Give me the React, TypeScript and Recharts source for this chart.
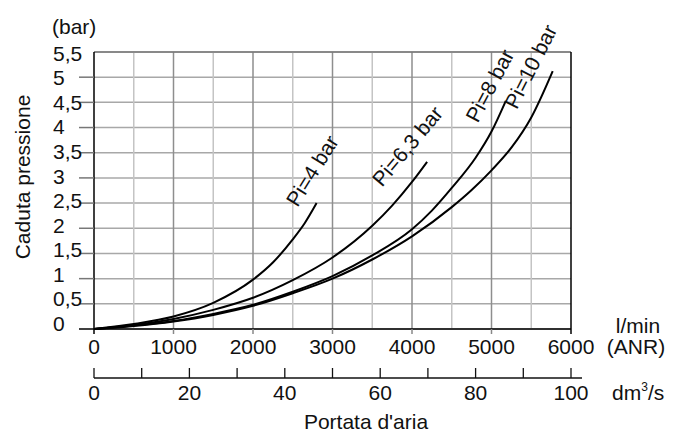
import React from 'react';
import { LineChart, Line, XAxis, YAxis, CartesianGrid, ReferenceLine } from 'recharts';

// flow (l/min ANR) vs pressure drop (bar)
const flowPi4 = [0, 500, 1000, 1500, 2000, 2250, 2500, 2650, 2800];
const dropPi4 = [0, 0.1, 0.25, 0.52, 0.98, 1.32, 1.78, 2.1, 2.5];

const flowPi63 = [0, 500, 1000, 1500, 2000, 2500, 3000, 3500, 3750, 4000, 4190];
const dropPi63 = [0, 0.08, 0.2, 0.38, 0.62, 0.97, 1.42, 2.05, 2.45, 2.92, 3.32];

const flowPi8 = [0, 500, 1000, 1500, 2000, 2500, 3000, 3500, 4000, 4250, 4500, 4800, 5000, 5180];
const dropPi8 = [0, 0.07, 0.16, 0.3, 0.48, 0.74, 1.05, 1.46, 1.98, 2.35, 2.8, 3.4, 3.92, 4.53];

const flowPi10 = [0, 500, 1000, 1500, 2000, 2500, 3000, 3500, 4000, 4500, 4750, 5000, 5250, 5500, 5770];
const dropPi10 = [0, 0.06, 0.15, 0.28, 0.46, 0.71, 1.0, 1.38, 1.84, 2.42, 2.76, 3.15, 3.6, 4.2, 5.12];

const curveNames = ['Pi=4 bar', 'Pi=6,3 bar', 'Pi=8 bar', 'Pi=10 bar'];

const flowTicks = [0, 1000, 2000, 3000, 4000, 5000, 6000];
const flowMinorGrid = [500, 1500, 2500, 3500, 4500, 5500];
const flowMajorGrid = [1000, 2000, 3000, 4000, 5000];
const dropTicks = [0, 0.5, 1, 1.5, 2, 2.5, 3, 3.5, 4, 4.5, 5, 5.5];
const dm3Ticks = [0, 10, 20, 30, 40, 50, 60, 70, 80, 90, 100];
const dm3Labels = [0, 20, 40, 60, 80, 100];

const toPoints = (xs: number[], ys: number[]) => xs.map((x, i) => ({ x, y: ys[i] }));

const series = [
  toPoints(flowPi4, dropPi4),
  toPoints(flowPi63, dropPi63),
  toPoints(flowPi8, dropPi8),
  toPoints(flowPi10, dropPi10),
];

// label placement relative to curve end: dx, dy, rotation
const labelPlacement = [
  { dx: -19, dy: 5, angle: -58 },
  { dx: -45, dy: 26, angle: -50 },
  { dx: -28, dy: 23, angle: -62 },
  { dx: -36, dy: 39, angle: -63 },
];

const FONT = '"Liberation Sans", Arial, Helvetica, sans-serif';
const FS = 21;

const YTick = (props: any) => {
  const { x, y, payload } = props;
  const v = payload.value;
  // labels in the original drift slightly lower relative to the grid towards the top
  const baseline = y + 2 + v * 1.2;
  return (
    <g>
      {v < 5.5 && (
        <line x1={x - 15} x2={x} y1={y} y2={y} stroke={v === 0 ? '#000' : '#777'} strokeWidth={1.5} />
      )}
      <text x={53} y={baseline} fontSize={FS} fontFamily={FONT} fill="#111" textAnchor="start">
        {String(v).replace('.', ',')}
      </text>
    </g>
  );
};

const FlowTick = (props: any) => {
  const { x, y, payload } = props;
  const v = payload.value;
  const edge = v === 0 || v === 6000;
  return (
    <g>
      <line x1={x} x2={x} y1={y} y2={y + 5} stroke={edge ? '#000' : '#888'} strokeWidth={1.5} />
      <text x={x} y={y + 25} fontSize={FS} fontFamily={FONT} fill="#111" textAnchor="middle">
        {v}
      </text>
    </g>
  );
};

const Dm3Tick = (props: any) => {
  const { x, y, payload } = props;
  const v = payload.value;
  return (
    <g>
      <line x1={x} x2={x} y1={y - 10} y2={y} stroke="#111" strokeWidth={1.3} />
      {v === 100 && <line x1={x} x2={x + 11} y1={y} y2={y} stroke="#111" strokeWidth={1.5} />}
      {dm3Labels.includes(v) && (
        <text x={x} y={y + 22} fontSize={FS} fontFamily={FONT} fill="#111" textAnchor="middle">
          {v}
        </text>
      )}
    </g>
  );
};

const App = () => {
  return (
    <div style={{ position: 'absolute', left: 0, top: 0, background: '#fff' }}>
      <LineChart width={678} height={432} margin={{ top: 52, right: 107, bottom: 0, left: 0 }}>
        <CartesianGrid vertical={false} stroke="#a8a8a8" strokeWidth={1.5} />
        {flowMinorGrid.map((v) => (
          <ReferenceLine key={'m' + v} x={v} stroke="#c4c4c4" strokeWidth={1.5} />
        ))}
        {flowMajorGrid.map((v) => (
          <ReferenceLine key={'M' + v} x={v} stroke="#8e8e8e" strokeWidth={1.5} />
        ))}
        <ReferenceLine y={5.5} stroke="#777" strokeWidth={1.5} />
        <ReferenceLine x={6000} stroke="#000" strokeWidth={1.5} />
        <XAxis
          type="number"
          dataKey="x"
          domain={[0, 6000]}
          ticks={flowTicks}
          allowDataOverflow
          height={49}
          tickSize={0}
          tickMargin={0}
          tickLine={false}
          axisLine={{ stroke: '#000', strokeWidth: 1.5 }}
          tick={<FlowTick />}
        />
        <XAxis
          xAxisId="dm3"
          type="number"
          dataKey="x"
          domain={[0, 100]}
          ticks={dm3Ticks}
          allowDataOverflow
          height={54}
          tickSize={0}
          tickMargin={0}
          tickLine={false}
          axisLine={{ stroke: '#111', strokeWidth: 1.5 }}
          tick={<Dm3Tick />}
        />
        <YAxis
          type="number"
          domain={[0, 5.5]}
          ticks={dropTicks}
          width={94}
          tickSize={0}
          tickMargin={0}
          tickLine={false}
          axisLine={{ stroke: '#000', strokeWidth: 1.5 }}
          tick={<YTick />}
        />
        {series.map((data, si) => (
          <Line
            key={curveNames[si]}
            data={data}
            dataKey="y"
            type="monotone"
            stroke="#000"
            strokeWidth={2}
            dot={false}
            isAnimationActive={false}
            label={(p: any) => {
              if (p.index !== data.length - 1) return <g />;
              const { dx, dy, angle } = labelPlacement[si];
              const tx = p.x + dx;
              const ty = p.y + dy;
              return (
                <text
                  x={tx}
                  y={ty}
                  fontSize={FS}
                  fontFamily={FONT}
                  fill="#111"
                  transform={`rotate(${angle} ${tx} ${ty})`}
                >
                  {curveNames[si]}
                </text>
              );
            }}
          />
        ))}
      </LineChart>
      <svg
        width={678}
        height={432}
        style={{ position: 'absolute', left: 0, top: 0, pointerEvents: 'none' }}
      >
        <g fontFamily={FONT} fontSize={FS} fill="#111">
          <text x={52} y={34}>(bar)</text>
          <text x={30} y={177} textAnchor="middle" transform="rotate(-90 30 177)">
            Caduta pressione
          </text>
          <text x={638} y={333} textAnchor="middle">l/min</text>
          <text x={636} y={354} textAnchor="middle">(ANR)</text>
          <text x={612} y={400}>
            dm<tspan fontSize={12} dy={-9}>3</tspan>
            <tspan dy={9}>/s</tspan>
          </text>
          <text x={366} y={429} textAnchor="middle">Portata d'aria</text>
        </g>
      </svg>
    </div>
  );
};

export default App;
